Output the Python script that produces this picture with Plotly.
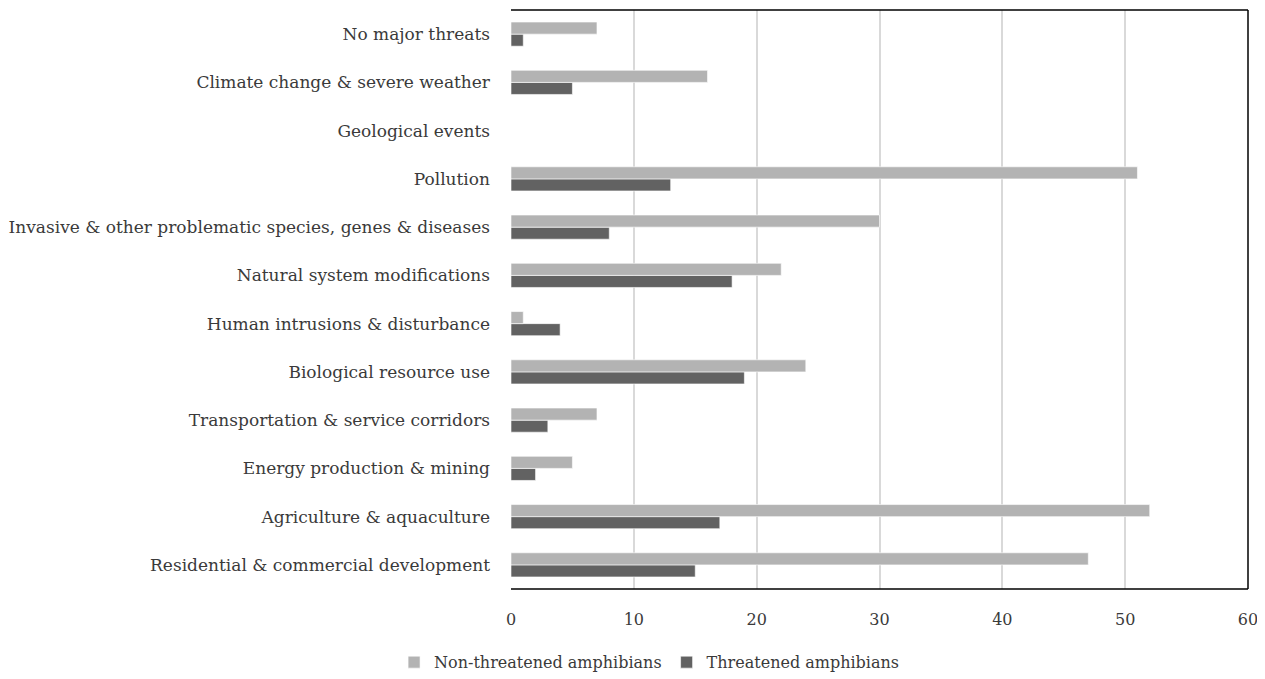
import plotly.graph_objects as go

categories = [
    "Residential & commercial development",
    "Agriculture & aquaculture",
    "Energy production & mining",
    "Transportation & service corridors",
    "Biological resource use",
    "Human intrusions & disturbance",
    "Natural system modifications",
    "Invasive & other problematic species, genes & diseases",
    "Pollution",
    "Geological events",
    "Climate change & severe weather",
    "No major threats",
]
non_threatened = [47, 52, 5, 7, 24, 1, 22, 30, 51, 0, 16, 7]
threatened = [15, 17, 2, 3, 19, 4, 18, 8, 13, 0, 5, 1]
x_ticks = [0, 10, 20, 30, 40, 50, 60]

FONT = "DejaVu Serif"
FS = 16
TXT = "#3a3a3a"

fig = go.Figure()
fig.add_trace(go.Bar(
    y=categories, x=threatened, orientation="h", name="Threatened amphibians",
    marker=dict(color="#626262", line=dict(color="#ffffff", width=0.6)),
))
fig.add_trace(go.Bar(
    y=categories, x=non_threatened, orientation="h", name="Non-threatened amphibians",
    marker=dict(color="#b3b3b3", line=dict(color="#ffffff", width=0.6)),
))

# page body has an 8px margin, so the figure is sized/offset to compensate
fig.update_layout(
    width=1257, height=671,
    margin=dict(l=503, r=17, t=2, b=90, autoexpand=False),
    paper_bgcolor="white", plot_bgcolor="white",
    barmode="group", bargap=0.5, bargroupgap=0,
    font=dict(family=FONT, size=FS, color=TXT),
    legend=dict(orientation="h", xref="container", yref="container",
                x=0.51, xanchor="center", y=0.025, yanchor="middle",
                traceorder="reversed", font=dict(size=FS, color=TXT),
                itemwidth=30),
    showlegend=True,
)
fig.update_xaxes(
    range=[0, 60], tickvals=x_ticks, showgrid=True, gridcolor="#d9d9d9", gridwidth=1.5,
    zeroline=False, showline=False, ticks="", ticklabelstandoff=19, automargin=False,
    tickfont=dict(size=FS, color=TXT),
)
fig.update_yaxes(
    showgrid=False, zeroline=False, showline=False, ticks="", ticklabelstandoff=20,
    automargin=False, tickfont=dict(size=17, color=TXT),
)
# frame: top, right, bottom
for (x0, y0, x1, y1) in [(0, 1, 1, 1), (1, 0, 1, 1), (0, 0, 1, 0)]:
    fig.add_shape(type="line", xref="paper", yref="paper", x0=x0, y0=y0, x1=x1, y1=y1,
                  line=dict(color="#000000", width=1.5))

fig.write_html("out.html")
